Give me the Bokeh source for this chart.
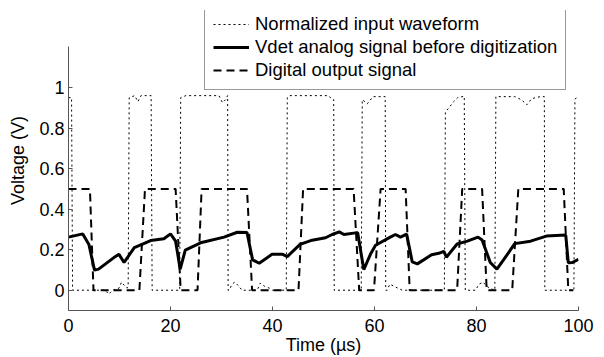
from bokeh.plotting import figure
from bokeh.models import Range1d, FixedTicker, PrintfTickFormatter, Legend, LegendItem
from bokeh.embed import file_html
from bokeh.resources import INLINE

# Normalized input waveform (dotted)
input_t = [0, 0.6, 0.8, 7.2, 7.9, 8.6, 9.9, 10.4, 10.9, 11.5, 11.7,
           11.9, 13.0, 13.6, 14.2, 14.8, 16.2, 16.4,
           21.8, 22.0, 23.0, 29.5, 30.2, 30.8, 31.2, 31.3,
           31.5, 32.1, 32.6, 33.4, 34.0, 37.0, 37.6, 38.4, 39.4, 40.0, 42.7,
           42.9, 43.4, 51.0, 51.7, 52.0, 52.1,
           57.4, 57.6, 58.6, 59.7, 62.1, 62.2,
           62.5, 63.0, 63.8, 64.6, 65.5, 73.7,
           73.9, 74.6, 75.5, 76.3, 77.6, 77.8,
           78.2, 79.8, 80.5, 81.3, 82.0, 82.6, 83.6,
           83.8, 87.5, 88.8, 89.9, 90.8, 92.5, 93.3, 93.4,
           99.1, 99.3, 99.7, 100]
input_v = [0.95, 0.95, 0, 0, -0.02, 0, 0.01, 0.04, 0.025, 0.01, 0.02,
           0.95, 0.96, 0.93, 0.96, 0.96, 0.96, 0,
           0, 0.95, 0.96, 0.96, 0.925, 0.94, 0.96, 0,
           0, 0.03, 0.04, 0.02, 0, 0, 0.035, 0.02, 0.01, 0, 0,
           0.95, 0.96, 0.96, 0.94, 0.94, 0,
           0, 0.94, 0.92, 0.955, 0.955, 0,
           0, 0.03, 0.02, 0.01, 0, 0,
           0.88, 0.9, 0.93, 0.95, 0.957, 0,
           0, 0, 0.03, 0.04, 0.02, 0.01, 0,
           0.955, 0.955, 0.94, 0.915, 0.945, 0.955, 0.955, 0,
           0, 0.94, 0.955, 0.955]

# Vdet analog signal before digitization (solid)
vdet_t = [0, 2.8, 4.0, 5.1, 5.9, 8.9, 9.9, 10.9, 12.9, 14.4, 16.1, 18.7, 20.0,
          21.0, 21.9, 22.9, 25.9, 30.5, 33.1, 35.0, 36.1, 37.4, 39.9, 41.9,
          42.9, 45.4, 47.5, 50.4, 51.7, 53.1, 54.0, 56.3, 56.7, 57.9, 59.2,
          60.2, 63.1, 64.1, 65.1, 66.3, 67.4, 68.4, 71.2, 72.6, 73.6, 74.1,
          76.2, 78.2, 80.3, 81.1, 82.7, 84.0, 85.4, 87.5, 90.6, 93.7, 97.5,
          98.0, 98.8, 100]
vdet_v = [0.262, 0.278, 0.226, 0.099, 0.104, 0.161, 0.177, 0.137, 0.210, 0.226,
          0.245, 0.254, 0.278, 0.242, 0.104, 0.198, 0.234, 0.262, 0.286, 0.285,
          0.150, 0.133, 0.177, 0.178, 0.166, 0.226, 0.245, 0.259, 0.275, 0.288,
          0.275, 0.283, 0.283, 0.102, 0.177, 0.222, 0.262, 0.275, 0.262, 0.277,
          0.140, 0.130, 0.175, 0.182, 0.192, 0.163, 0.228, 0.242, 0.262, 0.248,
          0.137, 0.104, 0.153, 0.230, 0.242, 0.267, 0.272, 0.135, 0.137, 0.153]

# Digital output signal (dashed)
digital_t = [0, 4.2, 4.9, 13.9, 15.0, 21.0, 22.0, 25.3, 26.1, 35.0, 36.0, 45.1,
             46.0, 55.9, 57.0, 59.9, 61.2, 66.1, 66.9, 76.2, 77.2, 81.1, 82.0,
             87.0, 88.2, 97.1, 98.0, 99.0]
digital_v = [0.5, 0.5, 0, 0, 0.5, 0.5, 0, 0, 0.5, 0.5, 0, 0,
             0.5, 0.5, 0, 0, 0.5, 0.5, 0, 0, 0.5, 0.5, 0,
             0, 0.5, 0.5, 0, 0]

x_ticks = [0, 20, 40, 60, 80, 100]
y_ticks = [0, 0.2, 0.4, 0.6, 0.8, 1]
y_axis_extent = (-0.1, 1.2)
series_labels = ["Normalized input waveform",
                 "Vdet analog signal before digitization",
                 "Digital output signal"]
x_title = "Time (µs)"
y_title = "Voltage (V)"

FONT = "Liberation Sans"

p = figure(width=604, height=357, output_backend="svg", toolbar_location=None,
           x_range=Range1d(0, 100), y_range=Range1d(-0.1, 1.38),
           min_border_left=68, min_border_right=26, min_border_top=10,
           min_border_bottom=44)
p.outline_line_color = None
p.xgrid.visible = False
p.ygrid.visible = False
p.background_fill_color = "white"
p.border_fill_color = "white"

r1 = p.line(input_t, input_v, line_color="black", line_width=1, line_dash="2 3")
r2 = p.line(vdet_t, vdet_v, line_color="black", line_width=3)
r3 = p.line(digital_t, digital_v, line_color="black", line_width=2, line_dash="8 5")

for ax in (p.xaxis[0], p.yaxis[0]):
    ax.axis_line_color = "#555555"
    ax.major_tick_line_color = "#555555"
    ax.major_tick_in = 4
    ax.major_tick_out = 0
    ax.minor_tick_line_color = None
    ax.major_label_text_font = FONT
    ax.major_label_text_font_size = "18px"
    ax.major_label_text_color = "black"
    ax.axis_label_text_font = FONT
    ax.axis_label_text_font_size = "18px"
    ax.axis_label_text_font_style = "normal"
    ax.axis_label_text_color = "black"

p.xaxis.ticker = FixedTicker(ticks=x_ticks)
p.yaxis.ticker = FixedTicker(ticks=y_ticks)
p.yaxis.bounds = y_axis_extent
p.yaxis.formatter = PrintfTickFormatter(format="%g")
p.xaxis.axis_label = x_title
p.yaxis.axis_label = y_title
p.xaxis.major_label_standoff = 8
p.xaxis.axis_label_standoff = 0
p.yaxis.major_label_standoff = 4
p.yaxis.axis_label_standoff = 8

legend = Legend(items=[LegendItem(label=series_labels[0], renderers=[r1]),
                       LegendItem(label=series_labels[1], renderers=[r2]),
                       LegendItem(label=series_labels[2], renderers=[r3])],
                location=(136, 220))
legend.label_text_font = FONT
legend.label_text_font_size = "18.5px"
legend.label_text_color = "black"
legend.border_line_color = "#333333"
legend.border_line_width = 1
legend.background_fill_color = "white"
legend.background_fill_alpha = 1
legend.glyph_width = 36
legend.glyph_height = 20
legend.label_height = 20
legend.label_standoff = 6
legend.padding = 8
legend.spacing = 1
legend.margin = 0
p.add_layout(legend)

open("out.html", "w").write(file_html(p, INLINE))
